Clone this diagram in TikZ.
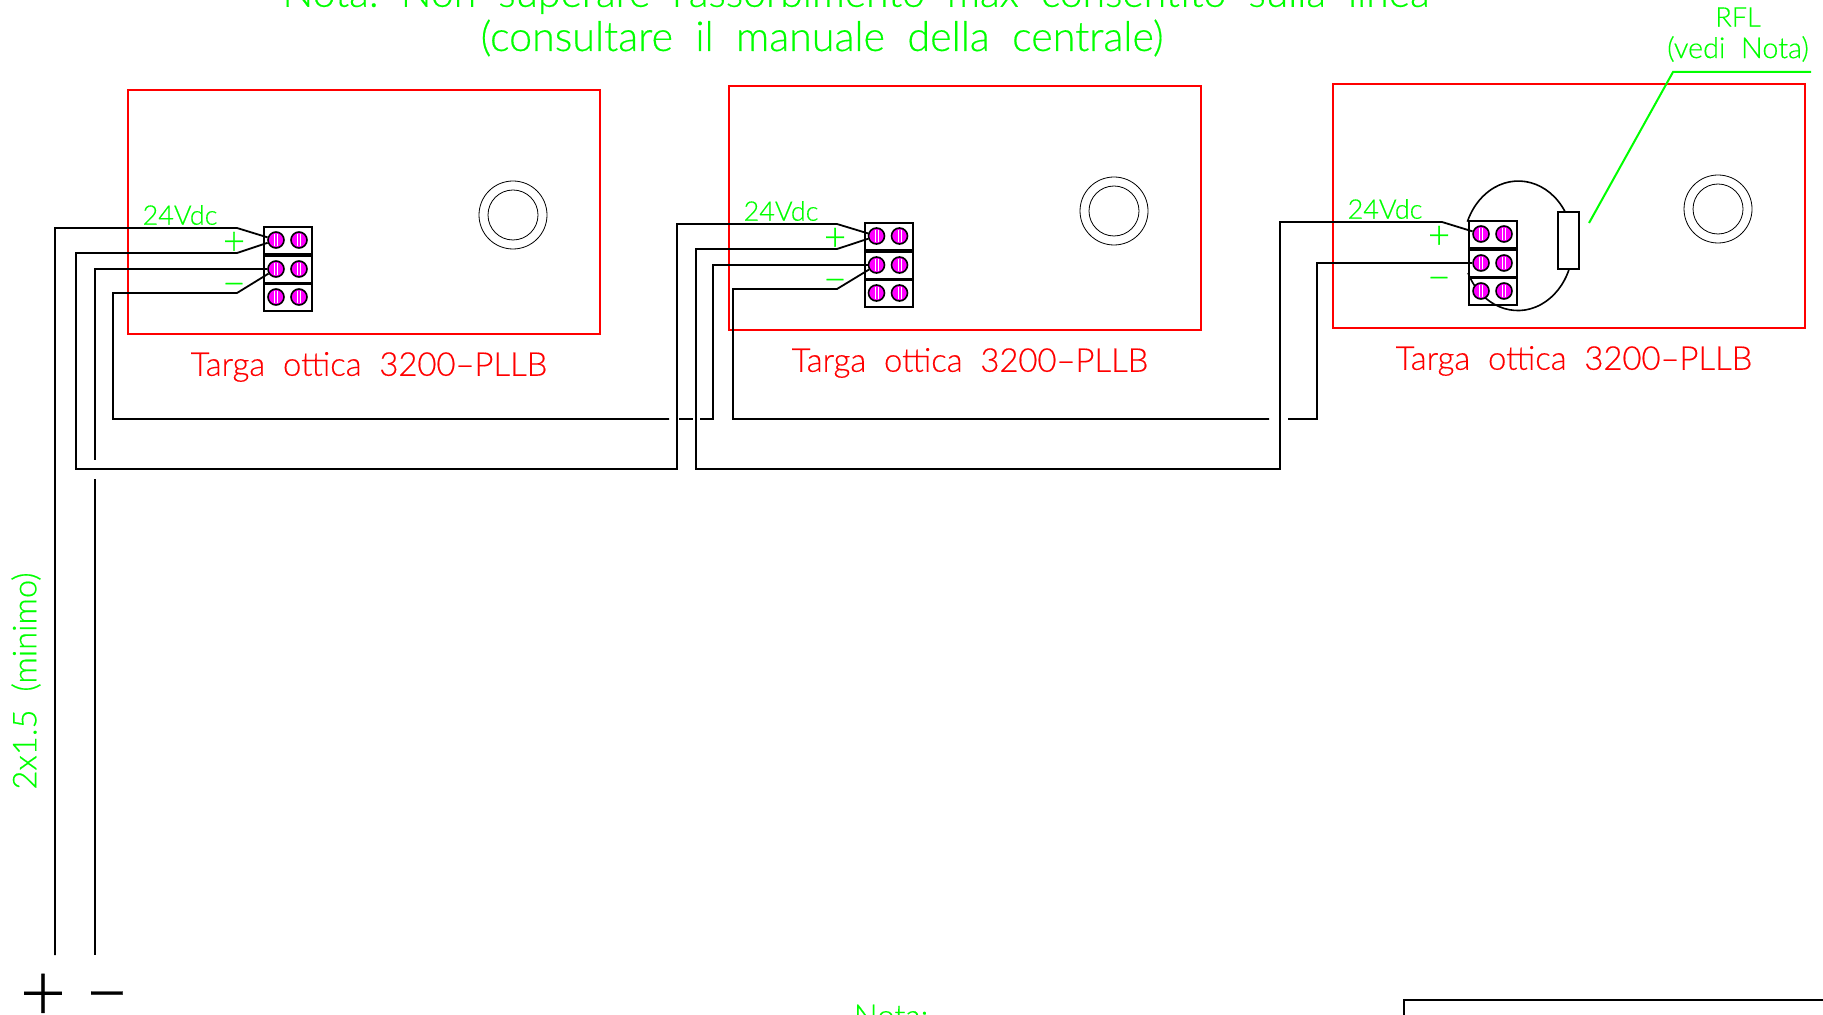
\documentclass[tikz,border=0pt]{standalone}
\usepackage{fontspec}
\setmainfont{Lato}[UprightFont=* Light,UprightFeatures={FakeBold=0.4}]
\definecolor{cadgreen}{RGB}{0,255,0}
\definecolor{cadred}{RGB}{255,0,0}
\definecolor{cadpink}{RGB}{255,0,255}
\tikzset{
  wire/.style={draw=black,line width=0.9pt},
  thinwire/.style={draw=black,line width=0.6pt},
  targa/.style={draw=cadred,line width=1pt},
  ring/.style={draw=black,line width=0.4pt},
  morsetto/.style={draw=black,line width=1pt,fill=white},
  vite/.style={circle,draw=black,line width=0.8pt,fill=cadpink,minimum size=8pt,inner sep=0pt},
  verde/.style={text=cadgreen,inner sep=0pt},
  rosso/.style={text=cadred,inner sep=0pt},
}
\begin{document}
\begin{tikzpicture}[x=0.5pt,y=-0.5pt]
  \useasboundingbox (0,0) rectangle (1823,1015);
  \clip (0,0) rectangle (1823,1015);

  \node[verde,font=\fontsize{20.4}{22}\selectfont] (notauno) at (856,-5) {Nota:~~Non~~superare~~l'assorbimento~~max~~consentito~~sulla~~linea};
  \node[verde,font=\fontsize{20.6}{22}\selectfont] (notadue) at (822,38) {(consultare~~il~~manuale~~della~~centrale)};

  \foreach \n/\x/\y in {1/0/0,2/601/-4,3/1205/-6} {
    \draw[targa] (128+\x,90+\y) rectangle (600+\x,334+\y);
    \node[ring,circle,minimum size=34pt,inner sep=0pt] (foro\n) at (513+\x,215+\y) {};
    \node[ring,circle,minimum size=25pt,inner sep=0pt] at (foro\n) {};
    \node[rosso,font=\fontsize{16.4}{18}\selectfont] (nome\n) at (369+\x,367+\y) {Targa~~ottica~~3200--PLLB};
    \node[verde,font=\fontsize{13.5}{16}\selectfont] (tensione\n) at (180+\x,215+\y) {24Vdc};
    \node[verde,font=\fontsize{19}{20}\selectfont] (piu\n) at (234+\x,243+\y) {+};
    \node[verde,font=\fontsize{20}{20}\selectfont] (meno\n) at (234+\x,290+\y) {−};
  }

  \draw[ring,line width=0.8pt] (1565,211.6) arc[start angle=-32,end angle=-158,x radius=55,y radius=65];
  \draw[ring,line width=0.8pt] (1468,273) arc[start angle=155,end angle=21,x radius=55,y radius=65];
  \draw[wire,fill=white] (1558,212) rectangle (1579,269);

  \foreach \n/\x/\y in {1/0/0,2/600.5/-4,3/1205/-6} {
    \foreach \r/\ry in {a/0,b/29,c/57} {
      \draw[morsetto,fill=none] (264+\x,227+\ry+\y) rectangle (312+\x,254+\ry+\y);
      \node[vite] (v\n\r) at (276+\x,240+\ry+\y) {};
      \node[vite] (w\n\r) at (299+\x,240+\ry+\y) {};
      \draw[white,line width=0.5pt] (274.5+\x,234+\ry+\y) -- (274.5+\x,246+\ry+\y) (277.5+\x,234+\ry+\y) -- (277.5+\x,246+\ry+\y);
      \draw[white,line width=0.5pt] (297.5+\x,234+\ry+\y) -- (297.5+\x,246+\ry+\y) (300.5+\x,234+\ry+\y) -- (300.5+\x,246+\ry+\y);
    }
  }

  \coordinate (piede) at (55,955);
  \coordinate (piedeb) at (95,955);
  \coordinate (taglio) at (95,479);
  \draw[wire] (v1a) -- (237,228) -- (55,228) -- (piede);
  \draw[wire] (v1a) -- (237,253) -- (76,253) -- (76,469) -- (677,469) -- (677,224) -- (837,224) -- (v2a);
  \draw[wire] (v1b) -- (95,269) -- (95,460);
  \draw[wire] (taglio) -- (piedeb);
  \draw[wire] (v1b) -- (237,293) -- (113,293) -- (113,419) -- (669,419);
  \draw[thinwire] (679,419) -- (693,419);
  \draw[thinwire] (700,419) -- (713,419) -- (713,265) -- (v2b);
  \draw[wire] (v2a) -- (837,249) -- (696,249) -- (696,469) -- (1280,469) -- (1280,222) -- (1442,222) -- (v3a);
  \draw[wire] (v2b) -- (837,289) -- (733,289) -- (733,419) -- (1269,419);
  \draw[thinwire] (1288,419) -- (1317,419) -- (1317,263) -- (v3b);

  \coordinate (rfla) at (1589,223);
  \coordinate (rflb) at (1811,72);
  \draw[cadgreen,line width=1pt] (rfla) -- (1673,72) -- (rflb);
  \node[verde,font=\fontsize{13.5}{16}\selectfont] (rfl) at (1738,17) {RFL};
  \node[verde,font=\fontsize{14.4}{16}\selectfont] (vedi) at (1738,49) {(vedi~~Nota)};

  \node[verde,rotate=90,font=\fontsize{16.4}{18}\selectfont] (cavo) at (26,681) {2x1.5~~(minimo)};

  \node[inner sep=0pt,font=\fontsize{40}{42}\selectfont] (piu) at (43,997) {+};
  \node[inner sep=0pt,font=\fontsize{38}{40}\selectfont] (meno) at (107,1005) {−};
  \node[verde,font=\fontsize{15.8}{18}\selectfont] (nota) at (891,1016) {Nota:};
  \draw[wire] (1404,1015) -- (1404,1000) -- (1823,1000);
\end{tikzpicture}
\end{document}
